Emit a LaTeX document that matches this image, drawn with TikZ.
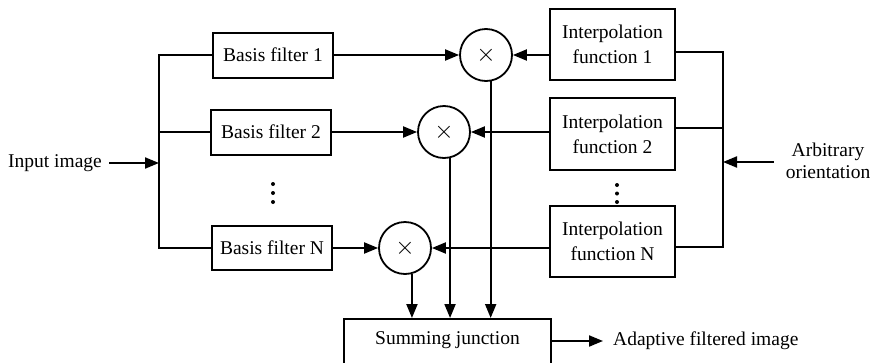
\documentclass[tikz,border=0pt]{standalone}
\usepackage{fontspec}
\setmainfont{Liberation Serif}
\usetikzlibrary{arrows.meta,calc}
\tikzset{
  line/.style={line width=2pt},
  arr/.style={line width=2pt,-{Triangle[length=14pt,width=11pt]}},
  blk/.style={draw,line width=2pt,rectangle,inner sep=0pt,align=center,font=\fontsize{19.5}{25}\selectfont},
  mult/.style={draw,line width=1.8pt,circle,minimum size=52pt,inner sep=0pt,font=\fontsize{26}{26}\selectfont},
  lbl/.style={inner sep=0pt,align=center,font=\fontsize{19.5}{22}\selectfont},
  dot/.style={fill,circle,inner sep=0pt,minimum size=4pt}
}
\begin{document}
\begin{tikzpicture}[x=1pt,y=-1pt]
\useasboundingbox (0,0) rectangle (876,362);
\clip (0,0) rectangle (876,362);
% left side
\node[lbl] (in) at (55,163) {Input image};
\coordinate (lbM) at (159,163);
\node[blk,minimum width=120pt,minimum height=45pt] (bf1) at (273,55) {Basis filter 1};
\node[blk,minimum width=120pt,minimum height=45pt] (bf2) at (271,132) {Basis filter 2};
\node[blk,minimum width=120pt,minimum height=44pt] (bfN) at (272,248) {Basis filter N};
\node[dot] (d1) at (273,184) {};
\node[dot] (d2) at (273,193) {};
\node[dot] (d3) at (273,202) {};
% multipliers
\node[mult] (c1) at (486,55) {$\times$};
\node[mult] (c2) at (444,132) {$\times$};
\node[mult] (cN) at (405,248) {$\times$};
% interpolation
\node[blk,minimum width=125pt,minimum height=71pt] (if1) at (612.5,44.5) {Interpolation\\function 1};
\node[blk,minimum width=125pt,minimum height=72pt] (if2) at (612.5,134) {Interpolation\\function 2};
\node[blk,minimum width=125pt,minimum height=71pt] (ifN) at (612.5,241.5) {Interpolation\\function N};
\node[dot] (e1) at (617,185) {};
\node[dot] (e2) at (617,193.5) {};
\node[dot] (e3) at (617,202) {};
\node[lbl] (ao) at (828,161) {Arbitrary\\orientation};
\coordinate (rb1) at (723,52);
\coordinate (rb2) at (723,128);
\coordinate (rbN) at (723,247);
\coordinate (rbM) at (723,162);
% summing
\node[blk,minimum width=207pt,minimum height=50pt,anchor=north] (sum) at (447.5,318) {};
\node[lbl] (sumt) at (447.5,340) {Summing junction};
\node[lbl,anchor=west] (out) at (613,341) {Adaptive filtered image};
% connectors
\draw[arr] (in.east) ++(7,0) -- (lbM);
\draw[line] (bf1.west) -| (159,0 |- bfN.west) -- (bfN.west);
\draw[line] (159,0 |- bf2.west) -- (bf2.west);
\draw[arr] (bf1.east) -- (c1.west);
\draw[arr] (bf2.east) -- (c2.west);
\draw[arr] (bfN.east) -- (cN.west);
\draw[arr] (if1.west |- c1.east) -- (c1.east);
\draw[arr] (if2.west |- c2.east) -- (c2.east);
\draw[arr] (ifN.west |- cN.east) -- (cN.east);
\draw[line] (if1.east |- rb1) -- (rb1) -- (rbN) -- (ifN.east |- rbN);
\draw[line] (if2.east |- rb2) -- (rb2);
\draw[arr] (ao.west) ++(-12,1) -- (rbM);
\draw[arr] (c1.-80) -- (c1.-80 |- sum.north);
\draw[arr] (c2.-77) -- (c2.-77 |- sum.north);
\draw[arr] (cN.-75) -- (cN.-75 |- sum.north);
\draw[arr] (sum.east |- out.west) -- ++(51,0);
\end{tikzpicture}
\end{document}
